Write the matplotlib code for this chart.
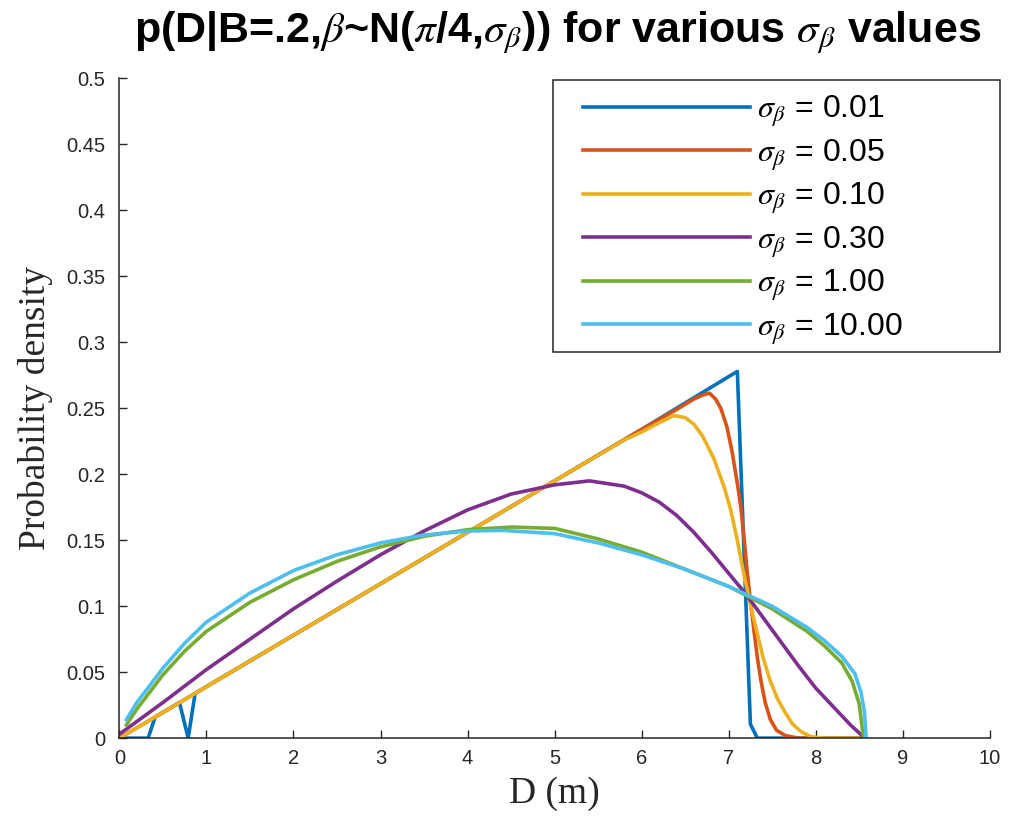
import matplotlib
matplotlib.use("Agg")
import matplotlib.pyplot as plt
import matplotlib.patches as patches

plt.rcParams['font.family'] = ['Liberation Sans', 'DejaVu Sans']
plt.rcParams['mathtext.fontset'] = 'stix'

# values
sigma_labels = ['0.01', '0.05', '0.10', '0.30', '1.00', '10.00']
colors = ['#0072BD', '#D95319', '#EDB120', '#7E2F8E', '#77AC30', '#4DBEEE']

d_001 = [0.0, 0.33, 0.41, 0.69, 0.79, 0.87, 2.0, 3.0, 4.0, 5.0, 6.0, 7.1, 7.25, 7.33, 8.55]
p_001 = [0.0, 0.0, 0.016, 0.027, 0.0, 0.034, 0.078, 0.117, 0.156, 0.195, 0.234, 0.278, 0.0106, 0.0, 0.0]

d_005 = [0.0, 1.0, 2.0, 3.0, 4.0, 5.0, 6.0, 6.4, 6.6, 6.7, 6.78, 6.85, 6.91, 6.98, 7.04, 7.1,
         7.14, 7.18, 7.21, 7.25, 7.29, 7.33, 7.37, 7.42, 7.48, 7.55, 7.65, 7.8, 8.55]
p_005 = [0.0, 0.039, 0.078, 0.117, 0.156, 0.195, 0.234, 0.249, 0.257, 0.260, 0.2615, 0.257, 0.250, 0.236, 0.217, 0.193,
         0.175, 0.150, 0.128, 0.104, 0.082, 0.061, 0.044, 0.027, 0.014, 0.006, 0.002, 0.0, 0.0]

d_010 = [0.0, 1.0, 2.0, 3.0, 4.0, 5.0, 5.8, 6.0, 6.2, 6.37, 6.5, 6.6, 6.7, 6.83, 6.95, 7.02, 7.1,
         7.17, 7.25, 7.33, 7.4, 7.48, 7.56, 7.64, 7.73, 7.83, 7.95, 8.1, 8.55]
p_010 = [0.0, 0.039, 0.078, 0.117, 0.156, 0.195, 0.226, 0.232, 0.239, 0.2445, 0.243, 0.238, 0.229, 0.212, 0.190, 0.174, 0.150,
         0.126, 0.101, 0.079, 0.060, 0.043, 0.030, 0.0205, 0.011, 0.005, 0.001, 0.0, 0.0]

d_030 = [0.0, 0.5, 1.0, 1.5, 2.0, 2.5, 3.0, 3.5, 4.0, 4.5, 5.0, 5.4, 5.8, 6.0, 6.2, 6.4, 6.6,
         6.8, 7.0, 7.2, 7.4, 7.6, 7.8, 8.0, 8.2, 8.4, 8.54]
p_030 = [0.003, 0.027, 0.052, 0.075, 0.098, 0.119, 0.139, 0.157, 0.173, 0.185, 0.192, 0.195, 0.191, 0.186, 0.179, 0.169, 0.156,
         0.141, 0.125, 0.109, 0.091, 0.073, 0.055, 0.038, 0.024, 0.010, 0.0015]

d_100 = [0.08, 0.2, 0.35, 0.5, 0.75, 1.0, 1.5, 2.0, 2.5, 3.0, 3.5, 4.0, 4.5, 5.0, 5.5, 6.0, 6.5,
         7.0, 7.5, 7.9, 8.1, 8.3, 8.42, 8.5, 8.55]
p_100 = [0.010, 0.022, 0.035, 0.048, 0.066, 0.081, 0.103, 0.120, 0.134, 0.145, 0.153, 0.158, 0.160, 0.159, 0.151, 0.141, 0.128,
         0.115, 0.098, 0.081, 0.070, 0.057, 0.043, 0.026, 0.0]

d_1000 = [0.08, 0.2, 0.35, 0.5, 0.75, 1.0, 1.5, 2.0, 2.5, 3.0, 3.5, 4.0, 4.4, 5.0, 5.5, 6.0, 6.5,
          7.0, 7.5, 7.9, 8.1, 8.3, 8.45, 8.52, 8.56, 8.58]
p_1000 = [0.014, 0.027, 0.040, 0.053, 0.072, 0.088, 0.110, 0.127, 0.139, 0.148, 0.154, 0.157, 0.1575, 0.155, 0.148, 0.139, 0.128,
          0.115, 0.100, 0.084, 0.074, 0.062, 0.049, 0.035, 0.020, 0.0]

curves = [(d_001, p_001), (d_005, p_005), (d_010, p_010),
          (d_030, p_030), (d_100, p_100), (d_1000, p_1000)]

x_ticks = list(range(0, 11))
y_ticks = [0, 0.05, 0.1, 0.15, 0.2, 0.25, 0.3, 0.35, 0.4, 0.45, 0.5]
y_tick_labels = ['0', '0.05', '0.1', '0.15', '0.2', '0.25', '0.3', '0.35', '0.4', '0.45', '0.5']

axis_color = '#262626'

fig = plt.figure(figsize=(10.12, 8.35), dpi=100)
ax = fig.add_axes([0.118, 0.116, 0.860, 0.790])

for (d, p), lab, c in zip(curves, sigma_labels, colors):
    ax.plot(d, p, color=c, linewidth=2.6, label=r'$\sigma_\beta$ = ' + lab,
            solid_joinstyle='round')

ax.set_xlim(0, 10)
ax.set_ylim(0, 0.5)
ax.set_xticks(x_ticks)
ax.set_yticks(y_ticks)
ax.set_yticklabels(y_tick_labels)
ax.tick_params(direction='in', length=6, width=1.0, colors=axis_color,
               labelsize=14.5, top=False, right=False)
ax.tick_params(axis='y', pad=10)
ax.tick_params(axis='x', pad=8)
for side in ['top', 'right']:
    ax.spines[side].set_visible(False)
for side in ['left', 'bottom']:
    ax.spines[side].set_color(axis_color)
    ax.spines[side].set_linewidth(1.1)

ax.set_xlabel('D (m)', family='Liberation Serif', fontsize=27, color=axis_color, labelpad=6)
ax.set_ylabel('Probability density', family='Liberation Serif', fontsize=27, color=axis_color, labelpad=10)

fig.suptitle(r'p(D|B=.2,$\beta$~N($\pi$/4,$\sigma_\beta$)) for various $\sigma_\beta$ values',
             fontsize=31, fontweight='bold', x=0.551, y=0.988, va='top')

# legend box drawn by hand so the entries can sit where they do in the reference
box = patches.Rectangle((553 / 1012, 1 - 352 / 835), 447 / 1012, 272 / 835,
                        transform=fig.transFigure, facecolor='white',
                        edgecolor=axis_color, linewidth=1.1, zorder=2)
fig.add_artist(box)

handles, labels = ax.get_legend_handles_labels()
leg = fig.legend(handles, labels, loc='upper left', bbox_to_anchor=(583 / 1012, 1 - 94 / 835),
                 borderaxespad=0, borderpad=0, frameon=False,
                 fontsize=23, handlelength=5.23, handletextpad=0.22, labelspacing=0.256)
leg.set_zorder(5)

fig.savefig('out.png', dpi=100)
